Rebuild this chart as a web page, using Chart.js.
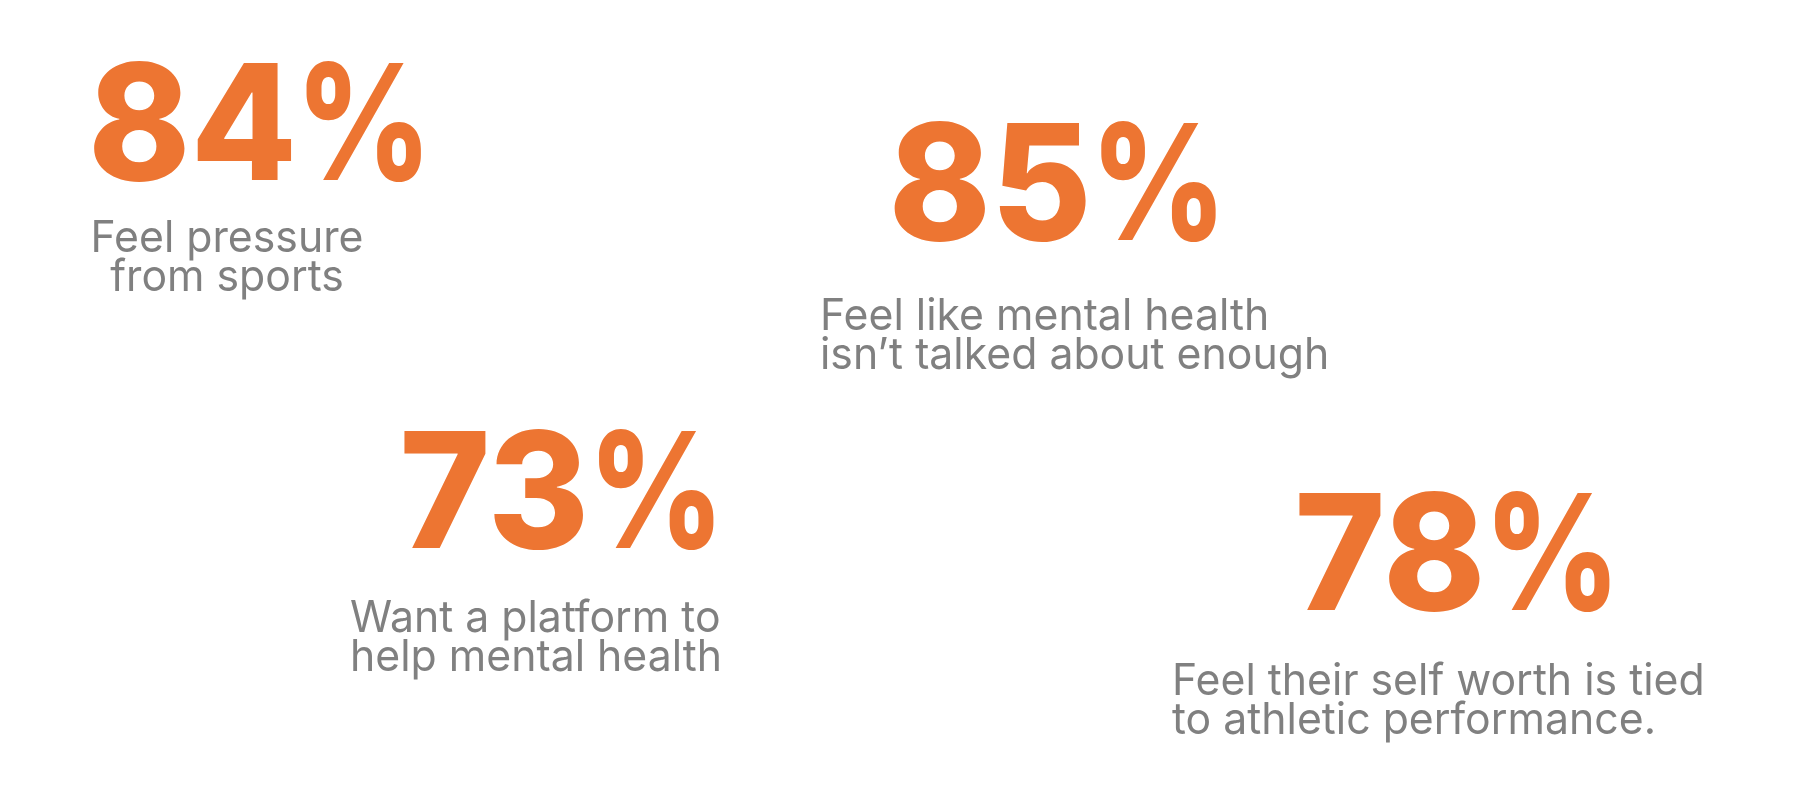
<!DOCTYPE html>
<html>
<head>
<meta charset="utf-8">
<script src="https://cdn.jsdelivr.net/npm/chart.js@4.4.1/dist/chart.umd.min.js"></script>
<style>
  html, body { margin: 0; padding: 0; background: #ffffff; }
  #wrap { position: relative; width: 1810px; height: 812px; }
</style>
</head>
<body>
<div id="wrap"><canvas id="c"></canvas></div>
<script>
// ---- data ----
const categories = [
  ["Feel pressure", "from sports"],
  ["Feel like mental health", "isn\u2019t talked about enough"],
  ["Want a platform to", "help mental health"],
  ["Feel their self worth is tied", "to athletic performance."]
];
const percentValues = [84, 85, 73, 78];

// ---- layout (anchor positions on a hidden 1810x812 grid) ----
const numberCenterX = [257.5, 1055, 559, 1454.5];
const numberBaseY   = [180, 240, 548, 610];
const labelAnchorX  = [227, 820, 350, 1172];
const labelBaseY    = [252, 330, 632, 695];
const labelAlign    = ["center", "left", "left", "left"];

const ORANGE = "#ED7532";
const GREY = "#808080";
const NUM_FONT = "800 161px Inter";
const DIGIT_SCALE_X = 0.96;
const PCT_SCALE_X = 0.82;
const PCT_GAP = 15;
const LBL_FONT = "400 44px Inter";
const LBL_SCALE_X = 0.972;
const LINE_GAP = 38.5;

const statPlugin = {
  id: "statText",
  afterDatasetsDraw(chart) {
    const ctx = chart.ctx;
    const numMeta = chart.getDatasetMeta(0);
    const lblMeta = chart.getDatasetMeta(1);
    percentValues.forEach((v, i) => {
      const p = numMeta.data[i];
      const digits = String(v);
      ctx.save();
      ctx.font = NUM_FONT;
      ctx.fillStyle = ORANGE;
      ctx.textBaseline = "alphabetic";
      ctx.textAlign = "left";
      const md = ctx.measureText(digits);
      const mp = ctx.measureText("%");
      const dInk = (md.actualBoundingBoxLeft + md.actualBoundingBoxRight) * DIGIT_SCALE_X;
      const pInk = (mp.actualBoundingBoxLeft + mp.actualBoundingBoxRight) * PCT_SCALE_X;
      const total = dInk + PCT_GAP + pInk;
      const left = p.x - total / 2;
      ctx.save();
      ctx.translate(left, p.y);
      ctx.scale(DIGIT_SCALE_X, 1);
      ctx.fillText(digits, md.actualBoundingBoxLeft, 0);
      ctx.restore();
      ctx.save();
      ctx.translate(left + dInk + PCT_GAP, p.y);
      ctx.scale(PCT_SCALE_X, 1);
      ctx.fillText("%", mp.actualBoundingBoxLeft, 0);
      ctx.restore();
      ctx.restore();

      const q = lblMeta.data[i];
      ctx.save();
      ctx.font = LBL_FONT;
      ctx.fillStyle = GREY;
      ctx.textBaseline = "alphabetic";
      ctx.textAlign = labelAlign[i];
      ctx.translate(q.x, q.y);
      ctx.scale(LBL_SCALE_X, 1);
      categories[i].forEach((line, k) => {
        ctx.fillText(line, 0, k * LINE_GAP);
      });
      ctx.restore();
    });
  }
};

new Chart(document.getElementById("c"), {
  type: "scatter",
  data: {
    labels: categories.map(c => c.join(" ")),
    datasets: [
      {
        label: "Percent",
        data: percentValues.map((v, i) => ({ x: numberCenterX[i], y: numberBaseY[i], v })),
        pointRadius: 0,
        pointHoverRadius: 0
      },
      {
        label: "Statement",
        data: categories.map((c, i) => ({ x: labelAnchorX[i], y: labelBaseY[i] })),
        pointRadius: 0,
        pointHoverRadius: 0
      }
    ]
  },
  options: {
    responsive: true,
    maintainAspectRatio: false,
    animation: false,
    events: [],
    layout: { padding: 0 },
    plugins: { legend: { display: false }, tooltip: { enabled: false } },
    scales: {
      x: { type: "linear", min: 0, max: 1810, display: false },
      y: { type: "linear", min: 0, max: 812, reverse: true, display: false }
    }
  },
  plugins: [statPlugin]
});
</script>
</body>
</html>
